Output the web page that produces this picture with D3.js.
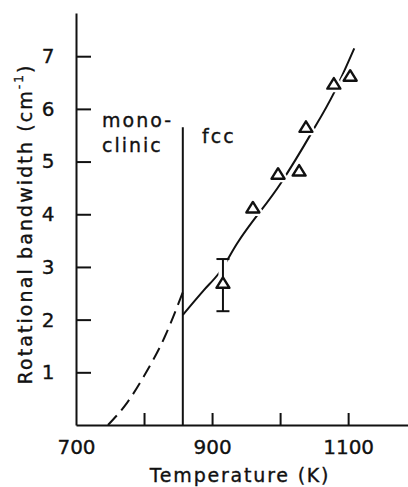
<!DOCTYPE html>
<html>
<head>
<meta charset="utf-8">
<script src="https://cdn.jsdelivr.net/npm/d3@7"></script>
<style>
  body { margin: 0; background: #fff; }
  text { font-family: "DejaVu Sans", sans-serif; fill: #111; stroke: #111; stroke-width: 0.35px; }
</style>
</head>
<body>
<div id="chart"></div>
<script>
// Chart size
const width = 408;
const height = 487;

// Data (temperature in K, bandwidth in cm^-1)
const monoclinicCurve = [[747, 0], [775, 0.42], [800, 0.93], [830, 1.66], [857, 2.52]];
const fccCurve = [[857, 2.09], [888, 2.56], [910, 2.88], [937, 3.45], [1001, 4.59], [1046, 5.54], [1079, 6.30], [1109, 7.15]];
const pointTemps = [916, 960, 997, 1028, 1038, 1079, 1103];
const pointValues = [2.69, 4.12, 4.76, 4.82, 5.65, 6.47, 6.62];
const errorBar = { t: 916, lo: 2.16, hi: 3.15 };
const phaseBoundary = { t: 857, top: 5.65 };
const xTicks = [700, 800, 900, 1000, 1100];
const xLabels = [700, 900, 1100];
const yTicks = [1, 2, 3, 4, 5, 6, 7];

// Scales
const x = d3.scaleLinear().domain([700, 1188]).range([76, 408]);
const y = d3.scaleLinear().domain([0, 7.82]).range([425, 13]);

const svg = d3.select("#chart").append("svg")
    .attr("width", width)
    .attr("height", height);

// Axes - ticks point inwards
const xAxis = d3.axisBottom(x)
    .tickValues(xTicks)
    .tickSizeInner(-12)
    .tickSizeOuter(0)
    .tickPadding(15)
    .tickFormat(d => xLabels.includes(d) ? d : "");

const yAxis = d3.axisLeft(y)
    .tickValues(yTicks)
    .tickSizeInner(-15)
    .tickSizeOuter(0)
    .tickPadding(22);

const gx = svg.append("g")
    .attr("transform", `translate(0,${y(0)})`)
    .call(xAxis);

const gy = svg.append("g")
    .attr("transform", `translate(${x(700)},0)`)
    .call(yAxis);

[gx, gy].forEach(g => {
    g.select(".domain").attr("stroke", "#111").attr("stroke-width", 2);
    g.selectAll(".tick line").attr("stroke", "#111").attr("stroke-width", 2);
    g.selectAll(".tick text")
        .attr("font-family", "DejaVu Sans")
        .attr("font-size", 20)
        .attr("fill", "#111");
});
gx.selectAll(".tick").filter(d => d === 700).select("line").remove();
gy.selectAll(".tick text").attr("text-anchor", "middle").attr("x", -28);

// Axis titles
svg.append("text")
    .attr("x", 240)
    .attr("y", 482)
    .attr("text-anchor", "middle")
    .attr("font-size", 19)
    .attr("letter-spacing", 1.8)
    .text("Temperature (K)");

const yTitle = svg.append("text")
    .attr("transform", "translate(32,224) rotate(-90)")
    .attr("text-anchor", "middle")
    .attr("font-size", 19)
    .attr("letter-spacing", 2.1);
yTitle.append("tspan").text("Rotational bandwidth (cm");
yTitle.append("tspan").attr("font-size", 12).attr("dy", -9).text("-1");
yTitle.append("tspan").attr("dy", 9).text(")");

// Phase boundary
svg.append("line")
    .attr("x1", x(phaseBoundary.t)).attr("x2", x(phaseBoundary.t))
    .attr("y1", y(0)).attr("y2", y(phaseBoundary.top))
    .attr("stroke", "#111")
    .attr("stroke-width", 2);

svg.append("text").attr("x", 102).attr("y", 127)
    .attr("font-size", 19).attr("letter-spacing", 2).text("mono-");
svg.append("text").attr("x", 102).attr("y", 152)
    .attr("font-size", 19).attr("letter-spacing", 2).text("clinic");
svg.append("text").attr("x", 202).attr("y", 143)
    .attr("font-size", 19).attr("letter-spacing", 2).text("fcc");

// Curves
const line = d3.line()
    .x(d => x(d[0]))
    .y(d => y(d[1]))
    .curve(d3.curveMonotoneX);

svg.append("path")
    .datum(monoclinicCurve)
    .attr("d", line)
    .attr("fill", "none")
    .attr("stroke", "#111")
    .attr("stroke-width", 2)
    .attr("stroke-dasharray", "13,7");

svg.append("path")
    .datum(fccCurve)
    .attr("d", line)
    .attr("fill", "none")
    .attr("stroke", "#111")
    .attr("stroke-width", 2);

// Data points with a white halo that breaks the curve, like the original
const points = pointTemps.map((t, i) => ({ t: t, v: pointValues[i] }));
const tri = "M0,-6L6.5,4.5L-6.5,4.5Z";

// white gap around the error bar
svg.append("line")
    .attr("x1", x(errorBar.t)).attr("x2", x(errorBar.t))
    .attr("y1", y(errorBar.hi)).attr("y2", y(errorBar.lo))
    .attr("stroke", "#fff").attr("stroke-width", 9);

svg.selectAll(".halo")
    .data(points)
    .enter().append("path")
    .attr("class", "halo")
    .attr("transform", d => `translate(${x(d.t)},${y(d.v)})`)
    .attr("d", tri)
    .attr("fill", "#fff")
    .attr("stroke", "#fff")
    .attr("stroke-width", 7)
    .attr("stroke-linejoin", "round");

// error bar
const eb = svg.append("g").attr("stroke", "#111").attr("stroke-width", 2);
eb.append("line")
    .attr("x1", x(errorBar.t)).attr("x2", x(errorBar.t))
    .attr("y1", y(errorBar.hi)).attr("y2", y(errorBar.lo));
[errorBar.hi, errorBar.lo].forEach(v => {
    eb.append("line")
        .attr("x1", x(errorBar.t) - 6.5).attr("x2", x(errorBar.t) + 6.5)
        .attr("y1", y(v)).attr("y2", y(v));
});

svg.selectAll(".pt")
    .data(points)
    .enter().append("path")
    .attr("class", "pt")
    .attr("transform", d => `translate(${x(d.t)},${y(d.v)})`)
    .attr("d", tri)
    .attr("fill", "#fff")
    .attr("stroke", "#111")
    .attr("stroke-width", 2.4)
    .attr("stroke-linejoin", "round");
</script>
</body>
</html>
